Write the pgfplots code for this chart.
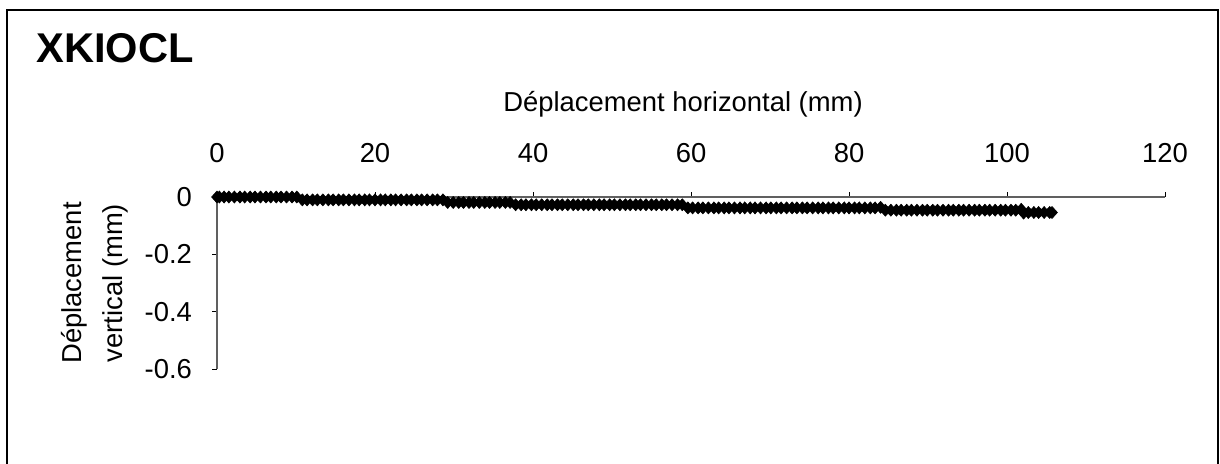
\documentclass[border=0pt]{standalone}
\usepackage{pgfplots}
\pgfplotsset{compat=1.18}
\usepackage{fontspec}
\setmainfont{Liberation Sans}
\begin{document}
\begin{tikzpicture}
\useasboundingbox (0,0) rectangle (610pt,-231.5pt);
\draw[black, line width=0.6pt] (3.5pt,-240pt) -- (3.5pt,-5pt) -- (609pt,-5pt) -- (609pt,-240pt);
\node[anchor=base west, inner sep=0pt, font=\fontsize{20.8}{24}\selectfont\bfseries] at (18pt,-31pt) {XKIOCL};
\begin{axis}[
  at={(108.5pt,-98.5pt)}, anchor=north west,
  width=474pt, height=86pt, scale only axis,
  xmin=0, xmax=120, ymin=-0.6, ymax=0,
  axis x line=top, axis y line=left,
  axis line style={-, gray!75!black, line width=0.6pt},
  xtick={0,20,40,60,80,100,120},
  ytick={-0.6,-0.4,-0.2,0},
  yticklabels={-0.6,-0.4,-0.2,0},
  tick align=outside, major tick length=2.5pt,
  tick style={black, line width=0.5pt},
  tick label style={font=\fontsize{13.7}{16}\selectfont},
  xticklabel style={yshift=11pt},
  yticklabel style={xshift=-6.5pt},
  /pgf/number format/assume math mode=true,
  xlabel={Déplacement horizontal (mm)},
  xlabel style={font=\fontsize{13.7}{16}\selectfont, at={(axis description cs:0.4916,1.496)}, anchor=base},
  ylabel={Déplacement\\vertical (mm)},
  ylabel style={font=\fontsize{13.7}{20.5}\selectfont, align=center, at={(axis description cs:-0.1287,0.5)}, anchor=center},
  clip=false,
]
\addplot[only marks, mark=diamond*, mark size=3pt, mark options={fill=black, draw=black, line width=0.3pt, xscale=1.2}] table[row sep=\\] {
x y\\
0.0 0\\ 0.3 0\\ 0.9 0\\ 1.5 0\\ 2.2 0\\ 2.9 0\\ 3.5 0\\ 4.2 0\\ 4.8 0\\ 5.5 0\\ 6.2 0\\ 6.8 0\\ 7.5 0\\ 8.1 0\\ 8.8 0\\ 9.5 0\\ 10.1 0\\
10.8 -0.010\\ 11.4 -0.010\\ 12.1 -0.010\\ 12.7 -0.010\\ 13.4 -0.010\\ 14.1 -0.010\\ 14.7 -0.010\\ 15.4 -0.010\\ 16.0 -0.010\\ 16.7 -0.010\\ 17.4 -0.010\\ 18.0 -0.010\\ 18.7 -0.010\\ 19.3 -0.010\\ 20.0 -0.010\\ 20.7 -0.010\\ 21.3 -0.010\\ 22.0 -0.010\\ 22.6 -0.010\\ 23.3 -0.010\\ 24.0 -0.010\\ 24.6 -0.010\\ 25.3 -0.010\\ 25.9 -0.010\\ 26.6 -0.010\\ 27.3 -0.010\\ 27.9 -0.010\\ 28.6 -0.010\\
29.2 -0.019\\ 29.9 -0.019\\ 30.6 -0.019\\ 31.2 -0.019\\ 31.9 -0.019\\ 32.5 -0.019\\ 33.2 -0.019\\ 33.9 -0.019\\ 34.5 -0.019\\ 35.2 -0.019\\ 35.8 -0.019\\ 36.5 -0.019\\ 37.1 -0.019\\
37.8 -0.027\\ 38.5 -0.027\\ 39.1 -0.027\\ 39.8 -0.027\\ 40.4 -0.027\\ 41.1 -0.027\\ 41.8 -0.027\\ 42.4 -0.027\\ 43.1 -0.027\\ 43.7 -0.027\\ 44.4 -0.027\\ 45.1 -0.027\\ 45.7 -0.027\\ 46.4 -0.027\\ 47.0 -0.027\\ 47.7 -0.027\\ 48.4 -0.027\\ 49.0 -0.027\\ 49.7 -0.027\\ 50.3 -0.027\\ 51.0 -0.027\\ 51.7 -0.027\\ 52.3 -0.027\\ 53.0 -0.027\\ 53.6 -0.027\\ 54.3 -0.027\\ 55.0 -0.027\\ 55.6 -0.027\\ 56.3 -0.027\\ 56.9 -0.027\\ 57.6 -0.027\\ 58.3 -0.027\\ 58.9 -0.027\\
59.6 -0.038\\ 60.2 -0.038\\ 60.9 -0.038\\ 61.5 -0.038\\ 62.2 -0.038\\ 62.9 -0.038\\ 63.5 -0.038\\ 64.2 -0.038\\ 64.8 -0.038\\ 65.5 -0.038\\ 66.2 -0.038\\ 66.8 -0.038\\ 67.5 -0.038\\ 68.1 -0.038\\ 68.8 -0.038\\ 69.5 -0.038\\ 70.1 -0.038\\ 70.8 -0.038\\ 71.4 -0.038\\ 72.1 -0.038\\ 72.8 -0.038\\ 73.4 -0.038\\ 74.1 -0.038\\ 74.7 -0.038\\ 75.4 -0.038\\ 76.1 -0.038\\ 76.7 -0.038\\ 77.4 -0.038\\ 78.0 -0.038\\ 78.7 -0.038\\ 79.4 -0.038\\ 80.0 -0.038\\ 80.7 -0.038\\ 81.3 -0.038\\ 82.0 -0.038\\ 82.7 -0.038\\ 83.3 -0.038\\
84.0 -0.036\\ 84.6 -0.046\\ 85.3 -0.046\\ 86.0 -0.046\\ 86.6 -0.046\\ 87.3 -0.046\\ 87.9 -0.046\\ 88.6 -0.046\\ 89.3 -0.046\\ 89.9 -0.046\\ 90.6 -0.046\\ 91.2 -0.046\\ 91.9 -0.046\\ 92.6 -0.046\\ 93.2 -0.046\\ 93.9 -0.046\\ 94.5 -0.046\\ 95.2 -0.046\\ 95.9 -0.046\\ 96.5 -0.046\\ 97.2 -0.046\\ 97.8 -0.046\\ 98.5 -0.046\\ 99.2 -0.046\\ 99.8 -0.046\\ 100.5 -0.046\\ 101.1 -0.046\\
101.8 -0.043\\ 102.1 -0.056\\ 102.7 -0.054\\ 103.4 -0.054\\ 104.0 -0.054\\ 104.7 -0.054\\ 105.4 -0.054\\ 105.7 -0.054\\
};
\end{axis}
\end{tikzpicture}
\end{document}
